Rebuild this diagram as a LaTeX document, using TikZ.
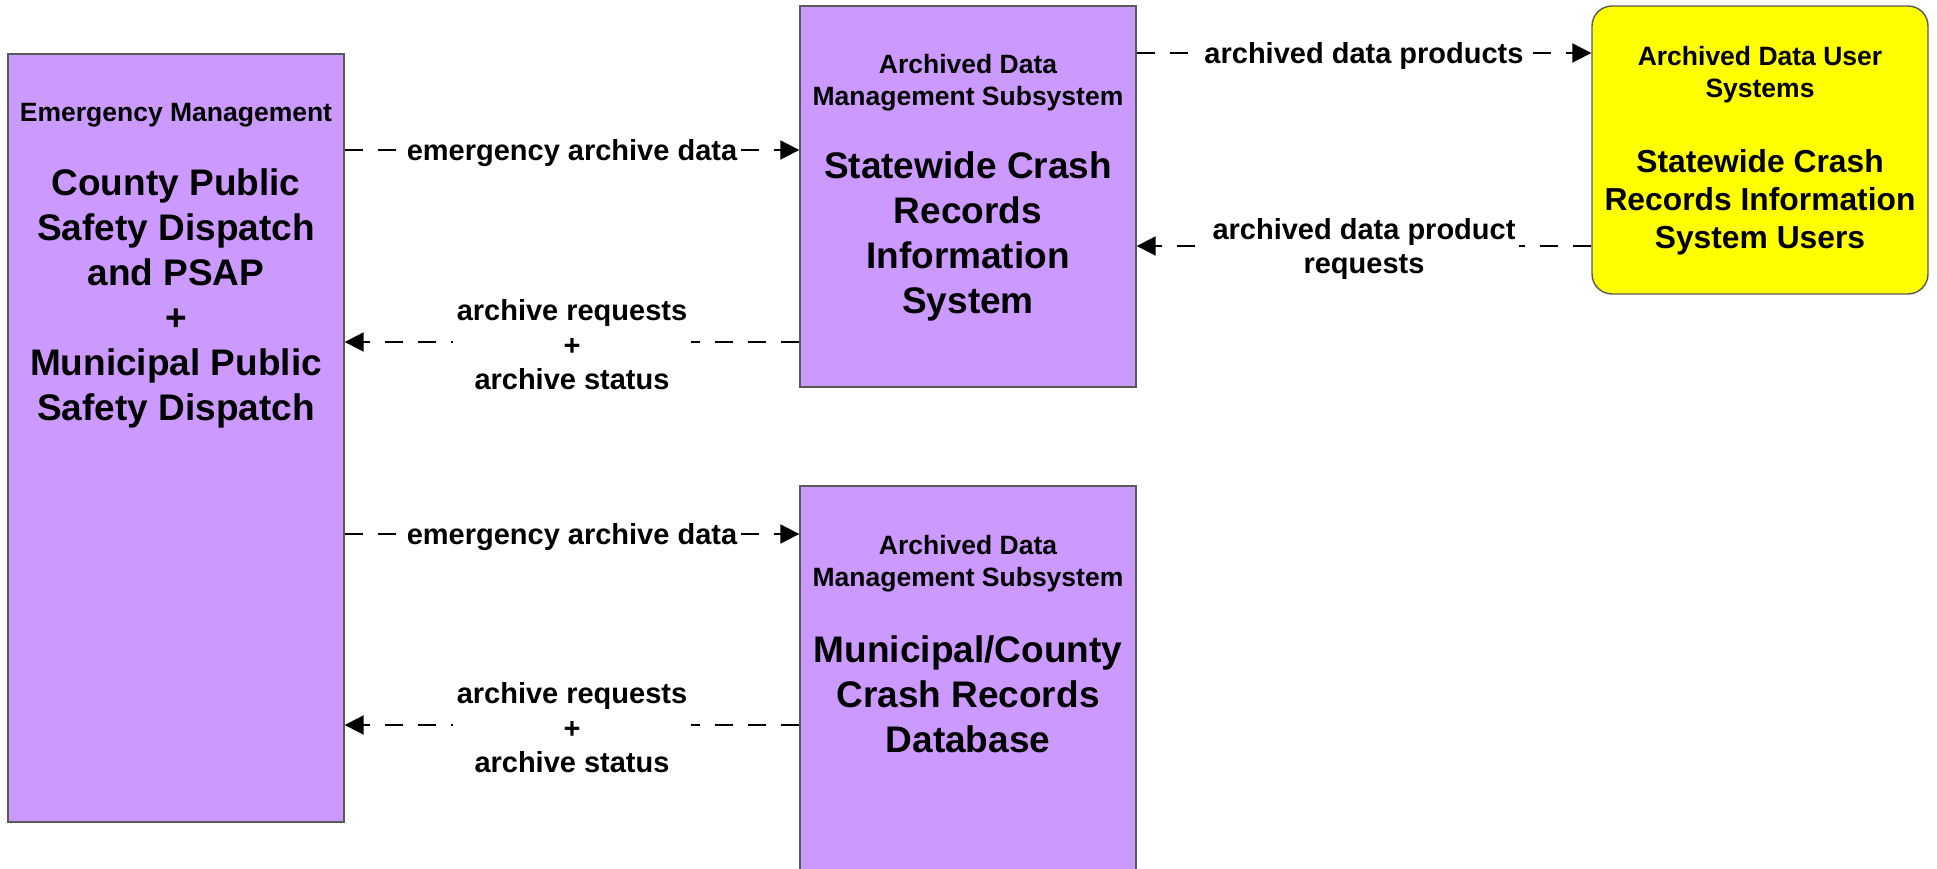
\documentclass[tikz,border=0pt]{standalone}
\usepackage{fontspec}
\setmainfont{Liberation Sans}
\usetikzlibrary{arrows.meta}

\definecolor{lilac}{HTML}{CC99FF}
\definecolor{useryellow}{HTML}{FFFF00}

\tikzset{
  sysbox/.style={draw=black!65, line width=0.4pt, fill=lilac, inner sep=0pt},
  userbox/.style={sysbox, fill=useryellow, rounded corners=0.2cm},
  hdr/.style={font=\fontsize{7.54}{9.1}\selectfont\bfseries, align=center},
  big/.style={font=\fontsize{10.53}{12.8}\selectfont\bfseries, align=center},
  flow/.style={line width=0.6pt, dash pattern=on 0.18cm off 0.15cm,
    -{Triangle[length=0.19cm,width=0.19cm]}},
  lbl/.style={fill=white, inner sep=1pt, font=\fontsize{8.25}{9.8}\selectfont\bfseries, align=center}
}

\begin{document}
\begin{tikzpicture}
    \useasboundingbox (0,0) rectangle (19.37,8.69);
    \clip (0,0) rectangle (19.37,8.69);

    % Subsystem boxes
    \node[sysbox, minimum width=3.36cm, minimum height=7.68cm] (emerg) at (1.76,4.31) {};
    \node[sysbox, minimum width=3.36cm, minimum height=3.81cm] (cris) at (9.68,6.725) {};
    \node[sysbox, minimum width=3.36cm, minimum height=4.03cm] (crashdb) at (9.68,1.815) {};
    \node[userbox, minimum width=3.36cm, minimum height=2.88cm] (users) at (17.60,7.19) {};

    % Box texts
    \node[hdr] (emergH) at (1.76,7.54) {Emergency Management};
    \node[big] (emergN) at (1.76,5.71) {County Public\\Safety Dispatch\\and PSAP\\+\\Municipal Public\\Safety Dispatch};

    \node[hdr] (crisH) at (9.68,7.86) {Archived Data\\Management Subsystem};
    \node[big] (crisN) at (9.68,6.33) {Statewide Crash\\Records\\Information\\System};

    \node[hdr] (crashdbH) at (9.68,3.05) {Archived Data\\Management Subsystem};
    \node[big] (crashdbN) at (9.68,1.75) {Municipal/County\\Crash Records\\Database};

    \node[hdr] (usersH) at (17.60,7.94) {Archived Data User\\Systems};
    \node[big, font=\fontsize{9.05}{10.8}\selectfont\bfseries] (usersN) at (17.60,6.67) {Statewide Crash\\Records Information\\System Users};

    % Flow levels
    \coordinate (f1) at (0,7.19);
    \coordinate (f2) at (0,5.27);
    \coordinate (f3) at (0,3.35);
    \coordinate (f4) at (0,1.44);
    \coordinate (f5) at (0,8.16);
    \coordinate (f6) at (0,6.23);

    % Flows
    \draw[flow] (emerg.east |- f1) -- node[lbl, yshift=-0.03cm] {emergency archive data} (cris.west |- f1);
    \draw[flow] (cris.west |- f2) -- node[lbl, yshift=-0.03cm] {archive requests\\+\\archive status} (emerg.east |- f2);
    \draw[flow] (emerg.east |- f3) -- node[lbl, yshift=-0.03cm] {emergency archive data} (crashdb.west |- f3);
    \draw[flow] (crashdb.west |- f4) -- node[lbl, yshift=-0.03cm] {archive requests\\+\\archive status} (emerg.east |- f4);
    \draw[flow] (cris.east |- f5) -- node[lbl, yshift=-0.03cm] {archived data products} (users.west |- f5);
    \draw[flow] (users.west |- f6) -- node[lbl, yshift=-0.03cm] {archived data product\\requests} (cris.east |- f6);
\end{tikzpicture}
\end{document}
